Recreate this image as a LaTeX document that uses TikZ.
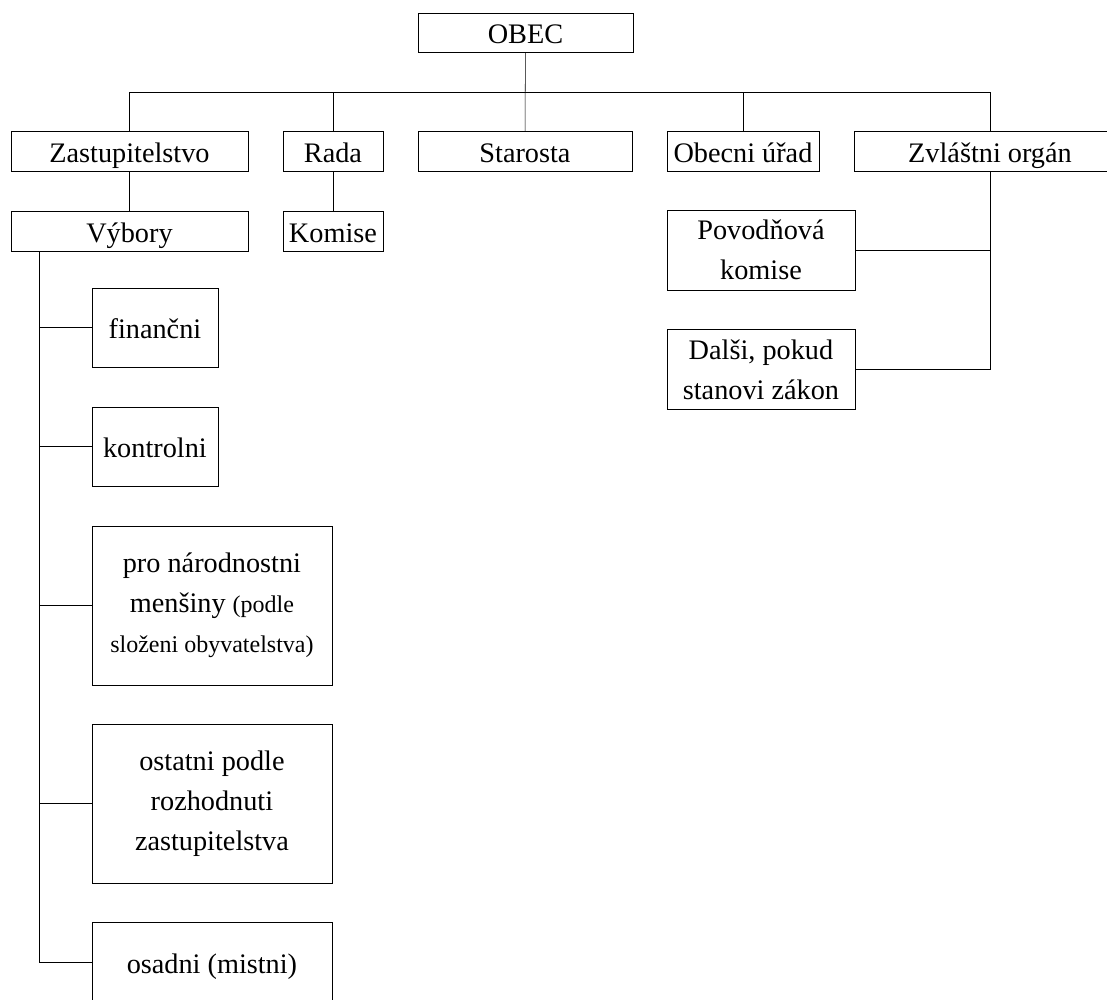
\documentclass[tikz,border=0pt]{standalone}
\usepackage{fontspec}
\setmainfont{Liberation Serif}
\usetikzlibrary{positioning}
\tikzset{
    line width=1.5pt, % all lines and box borders
    box/.style={draw, inner sep=0pt, align=center, minimum height=30pt}, % plain box
    oneline/.style={box, text height=18pt, text depth=1.5pt}, % one line boxes keep one baseline
    smallbox/.style={oneline, minimum width=94.5pt, minimum height=59.25pt}, % committees with one word
    bigbox/.style={box, minimum width=180pt, minimum height=119.25pt}, % committees with three lines
    sidebox/.style={box, minimum width=141pt, minimum height=60pt}, % boxes under the special organ
    }
\newcommand{\smalltext}{\fontsize{18}{30}\selectfont}

\begin{document}
\begin{tikzpicture}[font=\fontsize{21.2}{30}\selectfont]
    \path[use as bounding box, clip] (-394.1pt,24.4pt) rectangle (436.1pt,-724.9pt);

    \node[oneline, minimum width=161pt, minimum height=29pt] at (0,0) (OBEC) {OBEC};

    \node[oneline, minimum width=178pt] at ([xshift=-297pt,yshift=-88.9pt]OBEC) (ZASTUPITELSTVO) {Zastupitelstvo};
    \node[oneline, minimum width=75pt] at ([xshift=152.6pt]ZASTUPITELSTVO) (RADA) {Rada};
    \node[oneline, minimum width=160.5pt] at ([xshift=144pt]RADA) (STAROSTA) {Starosta};
    \node[oneline, minimum width=114pt] at ([xshift=163.5pt]STAROSTA) (URAD) {Obecni úřad};
    \node[oneline, minimum width=204pt] at ([xshift=185.25pt]URAD) (ZVLASTNI) {Zvláštni orgán};

    \node[oneline, minimum width=178pt] at ([yshift=-60pt]ZASTUPITELSTVO) (VYBORY) {Výbory};
    \node[oneline, minimum width=75pt] at ([yshift=-60pt]RADA) (KOMISE) {Komise};

    \node[smallbox] at ([xshift=19.1pt,yshift=-72.4pt]VYBORY) (FINANCNI) {finančni};
    \node[smallbox] at ([yshift=-89.25pt]FINANCNI) (KONTROLNI) {kontrolni};
    \node[bigbox] at ([xshift=42.75pt,yshift=-119.25pt]KONTROLNI) (MENSINY) {pro národnostni\\ menšiny {\smalltext (podle}\\ {\smalltext složeni obyvatelstva)}};
    \node[bigbox] at ([yshift=-148.5pt]MENSINY) (OSTATNI) {ostatni podle\\ rozhodnuti\\ zastupitelstva};
    \node[smallbox, minimum width=180pt] at ([yshift=-118.9pt]OSTATNI) (OSADNI) {osadni (mistni)};

    \node[sidebox] at ([xshift=-171.75pt,yshift=-74.25pt]ZVLASTNI) (POVODNOVA) {Povodňová\\ komise};
    \node[sidebox] at ([yshift=-89.6pt]POVODNOVA) (DALSI) {Dalši, pokud\\ stanovi zákon};

    \coordinate (BUS) at ([yshift=-30pt]OBEC.south);
    \draw (OBEC) -- (STAROSTA);
    \draw (BUS) -| (ZASTUPITELSTVO.north);
    \draw (BUS) -| (RADA.north);
    \draw (BUS) -| (URAD.north);
    \draw (BUS) -| (ZVLASTNI.north);

    \draw (ZASTUPITELSTVO) -- (VYBORY);
    \draw (RADA) -- (KOMISE);

    \coordinate (TRUNK) at ([xshift=21.75pt]VYBORY.south west);
    \draw (TRUNK) |- (OSADNI.west);
    \draw (TRUNK) |- (FINANCNI.west);
    \draw (TRUNK) |- (KONTROLNI.west);
    \draw (TRUNK) |- (MENSINY.west);
    \draw (TRUNK) |- (OSTATNI.west);

    \draw (ZVLASTNI.south) |- (DALSI.east);
    \draw (ZVLASTNI.south) |- (POVODNOVA.east);

\end{tikzpicture}
\end{document}
